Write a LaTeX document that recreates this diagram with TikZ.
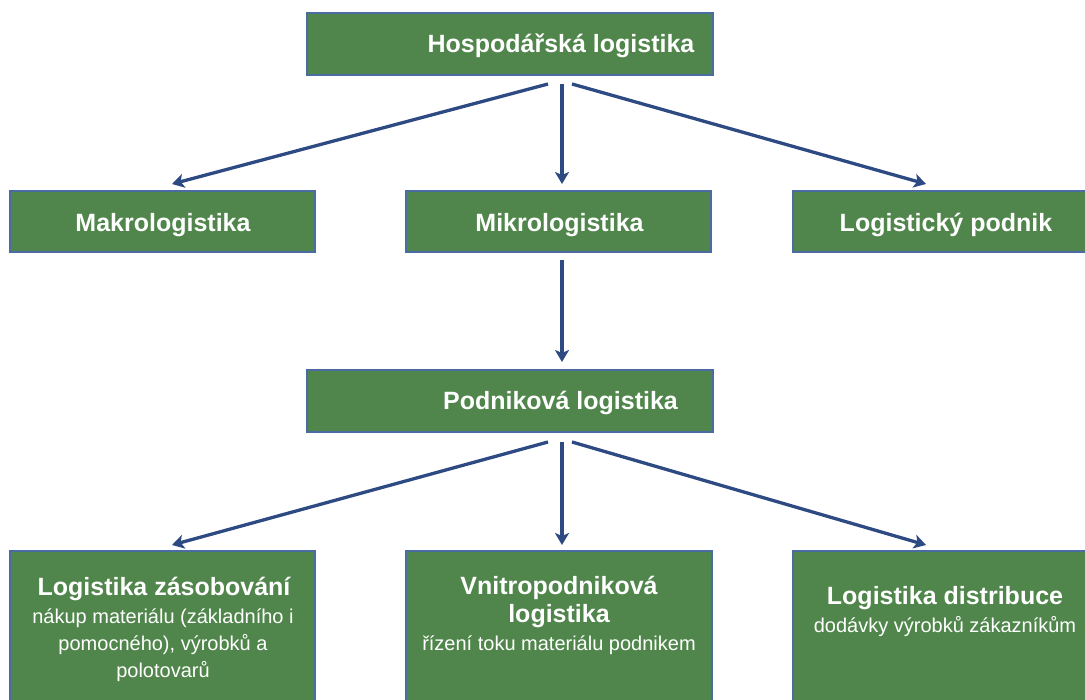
\documentclass[tikz,border=0pt]{standalone}
\usepackage{fontspec}
\setmainfont{Liberation Sans}
\usetikzlibrary{arrows.meta}
\definecolor{boxgreen}{HTML}{50864B}
\definecolor{boxedge}{HTML}{4A6CA3}
\definecolor{arrowblue}{HTML}{2E4A82}
\tikzset{
  box/.style={draw=boxedge, line width=1.2pt, fill=boxgreen, text=white,
    inner sep=0pt, align=center},
  conn/.style={draw=arrowblue, line width=3.3pt,
    -{Stealth[length=12pt, width=14pt, inset=3pt]}},
  headfont/.style={text=white, inner sep=0pt,
    font=\bfseries\fontsize{25}{28}\selectfont},
  subhead/.style={text=white, align=center, inner sep=0pt,
    font=\bfseries\fontsize{25}{27.5}\selectfont},
  desc/.style={text=white, align=center, inner sep=0pt,
    font=\fontsize{20}{27}\selectfont},
}
\begin{document}
\begin{tikzpicture}[x=1pt, y=-1pt]
  \useasboundingbox (0,0) rectangle (1085,700);
  \clip (0,0) rectangle (1085,700);

  % level 1
  \node[box, minimum width=406pt, minimum height=62pt] (top) at (510,44) {};
  \node[headfont, anchor=base] (toptxt) at (561,53) {Hospodářská logistika};

  % level 2
  \node[box, minimum width=305pt, minimum height=61pt] (makro) at (162.5,221.5) {};
  \node[headfont, anchor=base] (makrotxt) at (163,232) {Makrologistika};
  \node[box, minimum width=305pt, minimum height=61pt] (mikro) at (558.5,221.5) {};
  \node[headfont, anchor=base] (mikrotxt) at (559.5,232) {Mikrologistika};
  \node[box, minimum width=305pt, minimum height=61pt] (lpod) at (945.5,221.5) {};
  \node[headfont, anchor=base] (lpodtxt) at (946,232) {Logistický podnik};

  % level 3
  \node[box, minimum width=406pt, minimum height=62pt] (podn) at (510,401) {};
  \node[headfont, anchor=base] (podntxt) at (560.5,410) {Podniková logistika};

  % level 4 (boxes run past the lower edge)
  \node[box, minimum width=305pt, minimum height=200pt] (zas) at (162.5,651) {};
  \node[box, minimum width=306pt, minimum height=200pt] (vni) at (559,651) {};
  \node[box, minimum width=305pt, minimum height=200pt] (dis) at (945.5,651) {};

  \node[subhead, anchor=base] (zashead) at (164,595) {Logistika zásobování};
  \node[desc, anchor=base] (zasdesc) at (163,677)
    {nákup materiálu (základního i\\pomocného), výrobků a\\polotovarů};

  \node[subhead, anchor=base] (vnihead) at (559,622) {Vnitropodniková\\logistika};
  \node[desc, anchor=base] (vnidesc) at (559,650) {řízení toku materiálu podnikem};

  \node[subhead, anchor=base] (dishead) at (945,604) {Logistika distribuce};
  \node[desc, anchor=base] (disdesc) at (945,632) {dodávky výrobků zákazníkům};

  % connectors
  \coordinate (t1) at (548,84);
  \coordinate (t2) at (562,84);
  \coordinate (t3) at (572,84);
  \coordinate (m1) at (562,260);
  \coordinate (p1) at (548,442);
  \coordinate (p2) at (562,442);
  \coordinate (p3) at (572,442);
  \coordinate (e1) at (172,184);
  \coordinate (e2) at (562,184);
  \coordinate (e3) at (926,184);
  \coordinate (e4) at (562,362);
  \coordinate (f1) at (172,545);
  \coordinate (f2) at (562,545);
  \coordinate (f3) at (926,545);

  \draw[conn] (t1) -- (e1);
  \draw[conn] (t2) -- (e2);
  \draw[conn] (t3) -- (e3);
  \draw[conn] (m1) -- (e4);
  \draw[conn] (p1) -- (f1);
  \draw[conn] (p2) -- (f2);
  \draw[conn] (p3) -- (f3);
\end{tikzpicture}
\end{document}
